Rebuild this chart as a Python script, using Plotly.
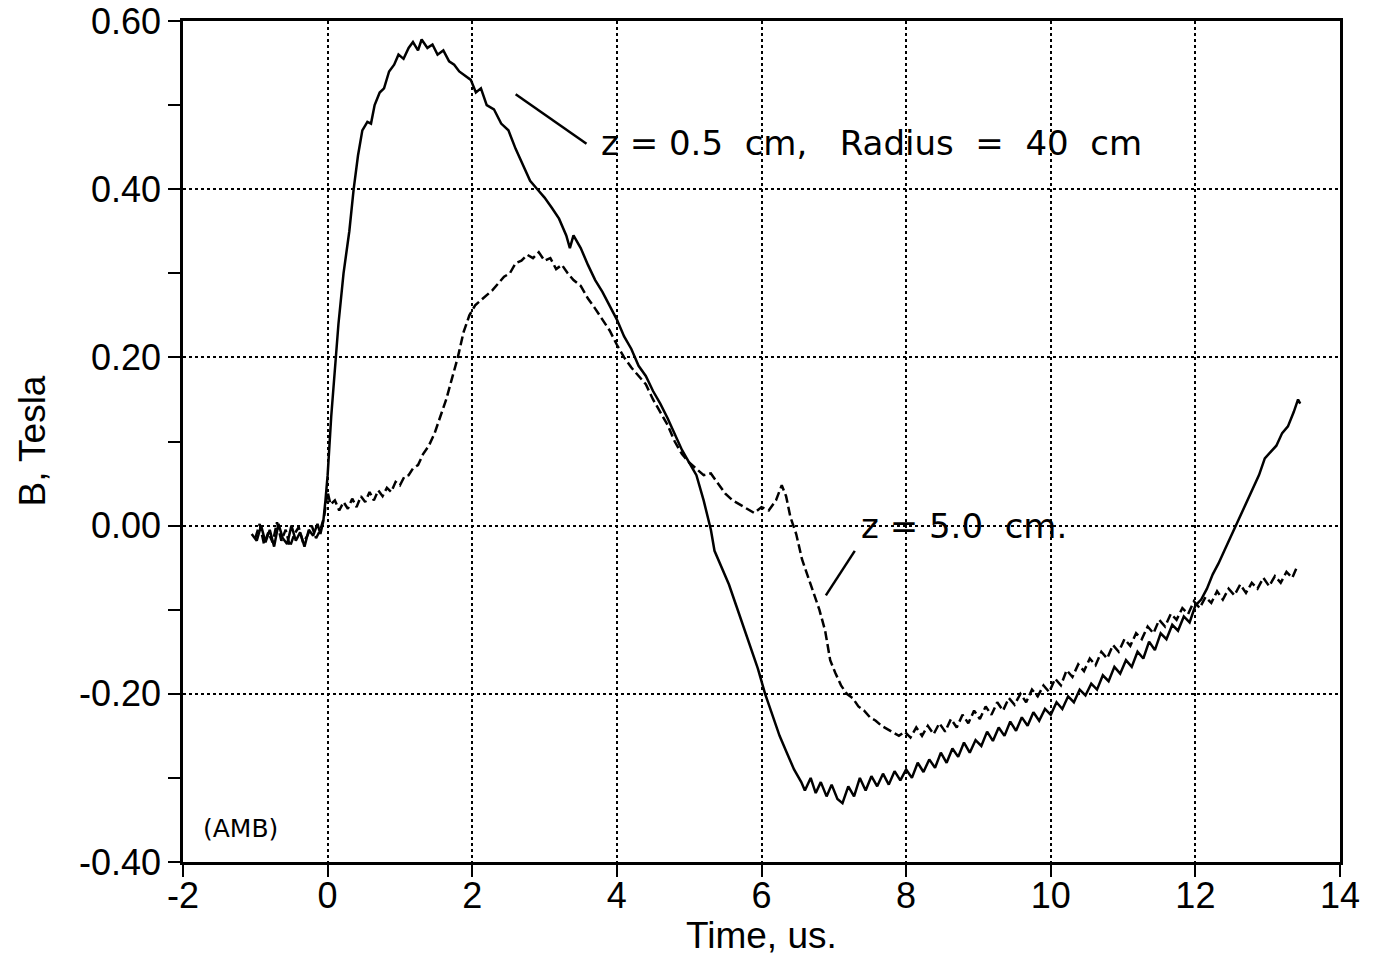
import plotly.graph_objects as go

# ---- data: z = 0.5 cm (solid) ----
t_solid = [-1.05, -0.98, -0.92, -0.86, -0.80, -0.74, -0.68, -0.62, -0.56, -0.50,
           -0.44, -0.38, -0.32, -0.26, -0.20, -0.14, -0.10, -0.06, -0.03, 0.00,
           0.05, 0.10, 0.15, 0.22, 0.30, 0.36, 0.42, 0.48, 0.55, 0.60,
           0.65, 0.72, 0.78, 0.85, 0.92, 0.98, 1.05, 1.12, 1.18, 1.25,
           1.30, 1.38, 1.45, 1.52, 1.60, 1.68, 1.75, 1.82, 1.90, 1.98,
           2.05, 2.12, 2.20, 2.30, 2.40, 2.50, 2.60, 2.70, 2.80, 2.90,
           3.00, 3.10, 3.20, 3.30, 3.35, 3.40, 3.50, 3.60, 3.70, 3.80,
           3.90, 4.00, 4.10, 4.20, 4.30, 4.40, 4.50, 4.60, 4.70, 4.80,
           4.90, 5.00, 5.10, 5.20, 5.30, 5.35, 5.45, 5.55, 5.65, 5.75,
           5.85, 5.95, 6.05, 6.15, 6.25, 6.35, 6.45, 6.55, 6.60, 6.68,
           6.75, 6.82, 6.90, 6.97, 7.05, 7.12, 7.20, 7.28, 7.36, 7.44,
           7.52, 7.60, 7.68, 7.76, 7.84, 7.92, 8.00, 8.08, 8.16, 8.24,
           8.32, 8.40, 8.48, 8.56, 8.64, 8.72, 8.80, 8.88, 8.96, 9.04,
           9.12, 9.20, 9.28, 9.36, 9.44, 9.52, 9.60, 9.68, 9.76, 9.84,
           9.92, 10.00, 10.08, 10.16, 10.24, 10.32, 10.40, 10.48, 10.56, 10.64,
           10.72, 10.80, 10.88, 10.96, 11.04, 11.12, 11.20, 11.28, 11.36, 11.44,
           11.52, 11.60, 11.68, 11.76, 11.84, 11.92, 12.00, 12.08, 12.16, 12.24,
           12.32, 12.40, 12.48, 12.56, 12.64, 12.72, 12.80, 12.88, 12.96, 13.04,
           13.12, 13.20, 13.28, 13.36, 13.42, 13.45]
b_solid = [-0.010, -0.018, 0.000, -0.020, -0.005, -0.025, 0.002, -0.015, -0.022, 0.000,
           -0.018, -0.008, -0.025, -0.005, -0.012, 0.002, -0.010, 0.005, 0.030, 0.060,
           0.130, 0.190, 0.240, 0.300, 0.350, 0.400, 0.440, 0.470, 0.480, 0.478,
           0.500, 0.515, 0.520, 0.540, 0.548, 0.560, 0.555, 0.568, 0.575, 0.565,
           0.578, 0.568, 0.572, 0.560, 0.565, 0.552, 0.548, 0.540, 0.535, 0.530,
           0.515, 0.520, 0.500, 0.495, 0.478, 0.470, 0.448, 0.430, 0.410, 0.400,
           0.390, 0.378, 0.365, 0.345, 0.330, 0.345, 0.330, 0.310, 0.292, 0.278,
           0.262, 0.245, 0.225, 0.210, 0.190, 0.178, 0.160, 0.145, 0.128, 0.110,
           0.090, 0.075, 0.060, 0.030, -0.005, -0.030, -0.050, -0.070, -0.095, -0.120,
           -0.145, -0.170, -0.200, -0.225, -0.250, -0.270, -0.290, -0.305, -0.315, -0.300,
           -0.318, -0.305, -0.322, -0.308, -0.325, -0.330, -0.310, -0.322, -0.300, -0.315,
           -0.298, -0.310, -0.295, -0.308, -0.292, -0.303, -0.290, -0.300, -0.282, -0.293,
           -0.278, -0.288, -0.270, -0.282, -0.265, -0.275, -0.258, -0.270, -0.255, -0.262,
           -0.245, -0.256, -0.240, -0.250, -0.233, -0.244, -0.228, -0.238, -0.222, -0.232,
           -0.218, -0.225, -0.210, -0.218, -0.203, -0.210, -0.195, -0.202, -0.188, -0.195,
           -0.178, -0.185, -0.168, -0.176, -0.160, -0.168, -0.150, -0.158, -0.138, -0.148,
           -0.128, -0.135, -0.118, -0.125, -0.108, -0.115, -0.095, -0.088, -0.075, -0.058,
           -0.045, -0.030, -0.015, 0.000, 0.015, 0.030, 0.045, 0.060, 0.080, 0.088,
           0.095, 0.110, 0.118, 0.135, 0.150, 0.145]

# ---- data: z = 5.0 cm (dashed) ----
t_dash = [-1.00, -0.94, -0.88, -0.82, -0.76, -0.70, -0.64, -0.58, -0.52, -0.46,
          -0.40, -0.34, -0.28, -0.22, -0.16, -0.10, -0.05, 0.00, 0.04, 0.10,
          0.16, 0.22, 0.28, 0.34, 0.40, 0.46, 0.52, 0.58, 0.64, 0.70,
          0.76, 0.82, 0.88, 0.94, 1.00, 1.06, 1.12, 1.18, 1.25, 1.32,
          1.40, 1.48, 1.56, 1.64, 1.72, 1.80, 1.88, 1.96, 2.04, 2.12,
          2.20, 2.28, 2.36, 2.44, 2.52, 2.60, 2.68, 2.76, 2.84, 2.92,
          3.00, 3.08, 3.16, 3.24, 3.32, 3.40, 3.50, 3.60, 3.70, 3.80,
          3.90, 4.00, 4.10, 4.20, 4.30, 4.40, 4.50, 4.60, 4.70, 4.80,
          4.90, 5.00, 5.10, 5.20, 5.30, 5.40, 5.50, 5.60, 5.70, 5.80,
          5.90, 6.00, 6.10, 6.20, 6.28, 6.34, 6.40, 6.48, 6.56, 6.64,
          6.72, 6.80, 6.88, 6.95, 7.02, 7.10, 7.18, 7.26, 7.34, 7.42,
          7.50, 7.58, 7.66, 7.74, 7.82, 7.90, 7.98, 8.06, 8.14, 8.22,
          8.30, 8.38, 8.46, 8.54, 8.62, 8.70, 8.78, 8.86, 8.94, 9.02,
          9.10, 9.18, 9.26, 9.34, 9.42, 9.50, 9.58, 9.66, 9.74, 9.82,
          9.90, 9.98, 10.06, 10.14, 10.22, 10.30, 10.38, 10.46, 10.54, 10.62,
          10.70, 10.78, 10.86, 10.94, 11.02, 11.10, 11.18, 11.26, 11.34, 11.42,
          11.50, 11.58, 11.66, 11.74, 11.82, 11.90, 11.98, 12.06, 12.14, 12.22,
          12.30, 12.38, 12.46, 12.54, 12.62, 12.70, 12.78, 12.86, 12.94, 13.02,
          13.10, 13.18, 13.26, 13.34, 13.40]
b_dash = [-0.015, 0.002, -0.022, -0.008, -0.020, 0.004, -0.018, -0.005, -0.025, -0.010,
          -0.002, -0.020, -0.012, 0.000, -0.015, -0.005, 0.010, 0.040, 0.025, 0.030,
          0.018, 0.028, 0.020, 0.032, 0.022, 0.035, 0.028, 0.040, 0.030, 0.042,
          0.035, 0.045, 0.040, 0.052, 0.048, 0.058, 0.060, 0.068, 0.072, 0.085,
          0.095, 0.110, 0.130, 0.150, 0.175, 0.200, 0.230, 0.250, 0.262, 0.268,
          0.275, 0.280, 0.288, 0.296, 0.300, 0.312, 0.315, 0.322, 0.318, 0.325,
          0.315, 0.318, 0.305, 0.310, 0.300, 0.292, 0.285, 0.270, 0.258, 0.245,
          0.232, 0.215, 0.200, 0.188, 0.178, 0.168, 0.150, 0.135, 0.120, 0.100,
          0.085, 0.075, 0.068, 0.060, 0.062, 0.050, 0.038, 0.030, 0.025, 0.020,
          0.015, 0.022, 0.018, 0.030, 0.048, 0.035, 0.010, -0.010, -0.040, -0.060,
          -0.080, -0.100, -0.125, -0.160, -0.175, -0.190, -0.200, -0.205, -0.215, -0.220,
          -0.228, -0.232, -0.238, -0.242, -0.245, -0.250, -0.245, -0.252, -0.240, -0.250,
          -0.238, -0.248, -0.235, -0.245, -0.230, -0.240, -0.225, -0.235, -0.220, -0.230,
          -0.215, -0.225, -0.210, -0.220, -0.205, -0.213, -0.200, -0.210, -0.195, -0.203,
          -0.190, -0.198, -0.182, -0.190, -0.172, -0.180, -0.165, -0.173, -0.158, -0.166,
          -0.150, -0.158, -0.142, -0.150, -0.135, -0.143, -0.128, -0.135, -0.120, -0.128,
          -0.112, -0.120, -0.105, -0.112, -0.098, -0.105, -0.090, -0.098, -0.085, -0.092,
          -0.078, -0.088, -0.075, -0.083, -0.070, -0.080, -0.068, -0.075, -0.062, -0.072,
          -0.060, -0.068, -0.055, -0.062, -0.050]

x_ticks = [-2, 0, 2, 4, 6, 8, 10, 12, 14]
x_ticktext = ["-2", "0", "2", "4", "6", "8", "10", "12", "14"]
y_ticks = [-0.40, -0.20, 0.00, 0.20, 0.40, 0.60]
y_ticktext = ["-0.40", "-0.20", "0.00", "0.20", "0.40", "0.60"]

fig = go.Figure()
fig.add_trace(go.Scatter(x=t_solid, y=b_solid, mode="lines",
                         line=dict(color="black", width=2.5), name="z = 0.5 cm"))
fig.add_trace(go.Scatter(x=t_dash, y=b_dash, mode="lines",
                         line=dict(color="black", width=2.5, dash="9px,4px"), name="z = 5.0 cm"))

# annotation pointer lines
fig.add_shape(type="line", x0=2.6, y0=0.513, x1=3.58, y1=0.454, line=dict(color="black", width=2.5))
fig.add_shape(type="line", x0=7.29, y0=-0.03, x1=6.89, y1=-0.083, line=dict(color="black", width=2.5))

ann_font = dict(family="DejaVu Sans", size=34, color="black")
fig.add_annotation(x=3.75, y=0.455, text="z = 0.5  cm,   Radius  =  40  cm", showarrow=False,
                   xanchor="left", yanchor="middle", font=ann_font)
fig.add_annotation(x=7.35, y=0.0, text="z = 5.0  cm.", showarrow=False,
                   xanchor="left", yanchor="middle", font=ann_font)
fig.add_annotation(x=-1.75, y=-0.36, text="(AMB)", showarrow=False,
                   xanchor="left", yanchor="middle", font=dict(family="DejaVu Sans", size=25, color="black"))

tick_font = dict(family="Liberation Sans", size=36, color="black")
title_font = dict(family="Liberation Sans", size=37, color="black")

# axis titles placed as paper-anchored text
fig.add_annotation(xref="paper", yref="paper", x=0.5, y=0, yanchor="middle", yshift=-73,
                   text="Time, us.", showarrow=False, font=title_font)
fig.add_annotation(xref="paper", yref="paper", x=0, y=0.5, xanchor="center", xshift=-151,
                   text="B, Tesla", textangle=-90, showarrow=False, font=title_font)

fig.update_layout(
    width=1362, height=948,
    margin=dict(l=175, r=30, t=13, b=94),
    paper_bgcolor="white", plot_bgcolor="white",
    showlegend=False,
    xaxis=dict(range=[-2, 14], tickvals=x_ticks, ticktext=x_ticktext, automargin=False,
               showline=True, linecolor="black", linewidth=2.5, mirror=True,
               ticks="outside", ticklen=12, tickwidth=2, tickcolor="black",
               showgrid=True, gridcolor="black", griddash="dot", gridwidth=1.5,
               zeroline=False, tickfont=tick_font, ticklabeloverflow="allow",
               ticklabelstandoff=-12),
    yaxis=dict(range=[-0.40, 0.60], tickvals=y_ticks, ticktext=y_ticktext, automargin=False,
               showline=True, linecolor="black", linewidth=2.5, mirror=True,
               ticks="outside", ticklen=12, tickwidth=2, tickcolor="black",
               minor=dict(dtick=0.1, tick0=0.1, ticks="outside", ticklen=12, tickwidth=2,
                          tickcolor="black", showgrid=False),
               showgrid=True, gridcolor="black", griddash="dot", gridwidth=1.5,
               zeroline=False, tickfont=tick_font, ticklabeloverflow="allow"),
)

fig.write_html("out.html")
